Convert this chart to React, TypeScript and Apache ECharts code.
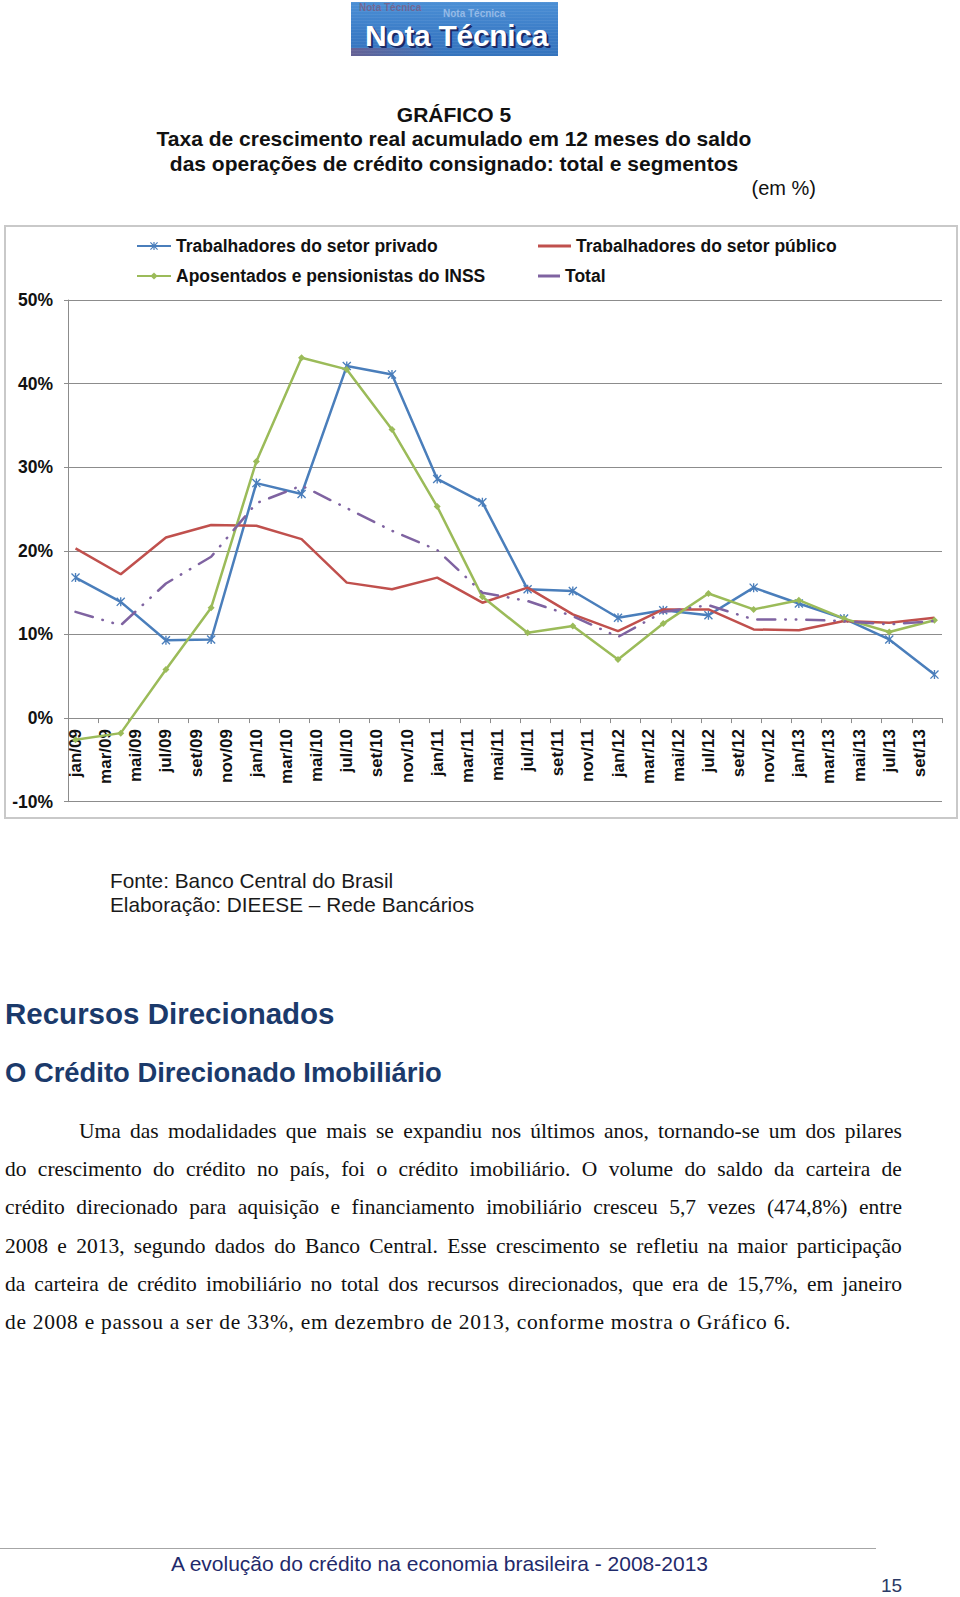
import React, { useEffect, useRef } from "react";
import * as echarts from "echarts";

// ---------- DATA ----------
const monthNames = ["jan", "fev", "mar", "abr", "mai", "jun", "jul", "ago", "set", "out", "nov", "dez"];
const yearSuffixes = ["09", "10", "11", "12", "13"];
const monthCount = 58; // jan/09 .. out/13
const categories: string[] = yearSuffixes
  .flatMap((y) => monthNames.map((m) => `${m}/${y}`))
  .slice(0, monthCount);

const quarters = [
  "jan/09", "abr/09", "jul/09", "out/09",
  "jan/10", "abr/10", "jul/10", "out/10",
  "jan/11", "abr/11", "jul/11", "out/11",
  "jan/12", "abr/12", "jul/12", "out/12",
  "jan/13", "abr/13", "jul/13", "out/13",
];

const privado = [16.8, 13.9, 9.3, 9.4, 28.1, 26.8, 42.1, 41.1, 28.6, 25.8, 15.4, 15.2, 12.0, 12.9, 12.3, 15.6, 13.7, 11.9, 9.4, 5.2];
const publico = [20.3, 17.2, 21.6, 23.1, 23.0, 21.4, 16.2, 15.4, 16.8, 13.8, 15.6, 12.4, 10.4, 13.0, 13.0, 10.6, 10.5, 11.6, 11.4, 12.0];
const inss = [-2.6, -1.8, 5.8, 13.2, 30.7, 43.1, 41.7, 34.5, 25.3, 14.5, 10.2, 11.0, 7.0, 11.3, 14.9, 13.0, 14.1, 11.9, 10.3, 11.7];
const total = [12.7, 11.1, 16.1, 19.3, 25.7, 27.8, 25.1, 22.4, 20.1, 15.0, 14.0, 12.2, 9.7, 12.7, 13.5, 11.8, 11.8, 11.6, 11.2, 11.6];

const seriesNames = [
  "Trabalhadores do setor privado",
  "Trabalhadores do setor público",
  "Aposentados e pensionistas do INSS",
  "Total",
];

const yTicks = { min: -10, max: 50, step: 10 };

const paragraphLines = [
  "Uma das modalidades que mais se expandiu nos últimos anos, tornando-se um dos pilares",
  "do crescimento do crédito no país, foi o crédito imobiliário. O volume do saldo da carteira de",
  "crédito direcionado para aquisição e financiamento imobiliário cresceu 5,7 vezes (474,8%) entre",
  "2008 e 2013, segundo dados do Banco Central. Esse crescimento se refletiu na maior participação",
  "da carteira de crédito imobiliário no total dos recursos direcionados, que era de 15,7%, em janeiro",
  "de 2008 e passou a ser de 33%, em dezembro de 2013, conforme mostra o Gráfico 6.",
];

// ---------- STYLE ----------
const SANS = '"Liberation Sans", Arial, Helvetica, sans-serif';
const SERIF = '"Liberation Serif", "Times New Roman", serif';
const COLORS = { blue: "#4a7ebb", red: "#c0504d", green: "#9bbb59", purple: "#7f63a1" };
const GRID_GRAY = "#8c8c8c";
const ASTERISK =
  "path://M8.5,0L11.5,0L11.5,20L8.5,20Z M0,2.1L2.1,0L20,17.9L17.9,20Z M17.9,0L20,2.1L2.1,20L0,17.9Z";

// plot geometry (px inside the chart div)
const PLOT_TOP = 80;
const PLOT_HEIGHT = 501.7;

function toPairs(vals: number[]) {
  return quarters.map((q, i) => [q, vals[i]]);
}

function Chart() {
  const ref = useRef<HTMLDivElement>(null);
  useEffect(() => {
    if (!ref.current) return;
    const chart = echarts.init(ref.current, undefined, { renderer: "svg" });
    const legendText = { fontSize: 17.5, fontWeight: "bold", color: "#111", fontFamily: SANS, lineHeight: 21 };
    const legendBase = { padding: 0, selectedMode: false, textStyle: legendText, itemGap: 0 };
    // distance from the bottom of the plot (min) up to the zero line
    const zeroOffset = -PLOT_HEIGHT * ((0 - yTicks.min) / (yTicks.max - yTicks.min));
    chart.setOption({
      animation: false,
      textStyle: { fontFamily: SANS },
      grid: {
        left: 68,
        right: 18,
        top: PLOT_TOP,
        height: PLOT_HEIGHT,
        containLabel: false,
        outerBoundsMode: "none",
      },
      legend: [
        {
          ...legendBase,
          left: 136,
          top: 15.5,
          itemWidth: 34,
          itemHeight: 10,
          data: [{ name: seriesNames[0], itemStyle: { borderWidth: 0 } }],
        },
        {
          ...legendBase,
          left: 136,
          top: 45.5,
          itemWidth: 34,
          itemHeight: 9,
          data: [{ name: seriesNames[2], itemStyle: { borderWidth: 0 } }],
        },
        {
          ...legendBase,
          left: 538,
          top: 15.5,
          itemWidth: 33,
          itemHeight: 3,
          data: [{ name: seriesNames[1], icon: "rect" }],
        },
        {
          ...legendBase,
          left: 538,
          top: 45.5,
          itemWidth: 22,
          itemHeight: 3,
          data: [{ name: seriesNames[3], icon: "rect" }],
        },
      ],
      xAxis: {
        type: "category",
        data: categories,
        boundaryGap: true,
        position: "bottom",
        offset: zeroOffset,
        axisLine: { onZero: false, lineStyle: { color: GRID_GRAY, width: 1 } },
        axisTick: { show: true, interval: 1, length: 5, lineStyle: { color: GRID_GRAY } },
        axisLabel: {
          interval: 1,
          rotate: 90,
          margin: 11,
          fontSize: 17,
          fontWeight: "bold",
          color: "#111",
          fontFamily: SANS,
        },
        splitLine: { show: false },
      },
      yAxis: {
        type: "value",
        min: yTicks.min,
        max: yTicks.max,
        interval: yTicks.step,
        axisLine: { show: true, lineStyle: { color: GRID_GRAY, width: 1 } },
        axisTick: { show: true, length: 4, lineStyle: { color: GRID_GRAY } },
        axisLabel: {
          formatter: "{value}%",
          fontSize: 17.5,
          fontWeight: "bold",
          color: "#111",
          margin: 15,
          fontFamily: SANS,
        },
        splitLine: { show: true, lineStyle: { color: GRID_GRAY, width: 1 } },
      },
      graphic: [
        {
          type: "rect",
          silent: true,
          shape: { x: 5, y: 6, width: 952, height: 592 },
          style: { fill: "none", stroke: "#c9c9c9", lineWidth: 2 },
        },
      ],
      series: [
        {
          name: seriesNames[0],
          type: "line",
          data: toPairs(privado),
          symbol: ASTERISK,
          symbolSize: 9,
          lineStyle: { color: COLORS.blue, width: 2.5 },
          itemStyle: { color: COLORS.blue },
          z: 2,
        },
        {
          name: seriesNames[1],
          type: "line",
          data: toPairs(publico),
          symbol: "none",
          lineStyle: { color: COLORS.red, width: 2.5 },
          itemStyle: { color: COLORS.red },
          z: 3,
        },
        {
          name: seriesNames[2],
          type: "line",
          data: toPairs(inss),
          symbol: "diamond",
          symbolSize: 7,
          lineStyle: { color: COLORS.green, width: 2.5 },
          itemStyle: { color: COLORS.green },
          z: 4,
        },
        {
          name: seriesNames[3],
          type: "line",
          data: toPairs(total),
          symbol: "none",
          lineStyle: {
            color: COLORS.purple,
            width: 2.5,
            type: [18, 10, 0.5, 10, 0.5, 10],
            cap: "round",
          },
          itemStyle: { color: COLORS.purple },
          z: 5,
        },
      ],
    });
    return () => chart.dispose();
  }, []);
  return <div ref={ref} style={{ position: "absolute", left: 0, top: 220, width: 960, height: 610 }} />;
}

function Logo() {
  const faint = (text: string, left: number, top: number, color: string, size: number) => (
    <div
      style={{
        position: "absolute",
        left,
        top,
        font: `bold ${size}px ${SANS}`,
        color,
        whiteSpace: "nowrap",
        lineHeight: 1,
      }}
    >
      {text}
    </div>
  );
  return (
    <div
      style={{
        position: "absolute",
        left: 351,
        top: 2,
        width: 207,
        height: 54,
        overflow: "hidden",
        background:
          "repeating-linear-gradient(180deg, rgba(255,255,255,0.06) 0px, rgba(255,255,255,0.06) 1px, rgba(0,0,0,0) 1px, rgba(0,0,0,0) 3px), linear-gradient(90deg, rgba(190,60,70,0.35) 0%, rgba(190,60,70,0) 45%) bottom / 100% 8px no-repeat, linear-gradient(180deg, #4b8fd5 0%, #3a7bc6 60%, #3574bd 100%)",
      }}
    >
      {faint("Nota Técnica", 8, 1, "rgba(150,70,90,0.55)", 10)}
      {faint("Nota Técnica", 92, 7, "rgba(225,235,255,0.5)", 10)}
      <div
        style={{
          position: "absolute",
          left: 14,
          top: 19,
          font: `bold 30px ${SANS}`,
          lineHeight: "30px",
          color: "#ffffff",
          textShadow: "2px 2px 0 #1b2a66, 1px 1px 0 #1b2a66",
          whiteSpace: "nowrap",
          letterSpacing: -0.3,
        }}
      >
        Nota Técnica
      </div>
    </div>
  );
}

export default function App() {
  const abs = (extra: React.CSSProperties): React.CSSProperties => ({ position: "absolute", ...extra });
  return (
    <div style={{ position: "absolute", left: 0, top: 0, width: 960, height: 1597, background: "#fff", overflow: "hidden" }}>
      <Logo />
      <div
        style={abs({
          left: 0,
          top: 102.75,
          width: 908,
          textAlign: "center",
          font: `bold 21px ${SANS}`,
          lineHeight: "24.5px",
          color: "#111",
        })}
      >
        <div>GRÁFICO 5</div>
        <div>Taxa de crescimento real acumulado em 12 meses do saldo</div>
        <div>das operações de crédito consignado: total e segmentos</div>
      </div>
      <div style={abs({ left: 0, top: 176, width: 816, textAlign: "right", font: `20px ${SANS}`, lineHeight: "24.5px", color: "#111" })}>
        (em %)
      </div>

      <Chart />

      <div style={abs({ left: 110, top: 869, font: `20.8px ${SANS}`, lineHeight: "24px", color: "#1a1a1a", whiteSpace: "nowrap" })}>
        <div>Fonte: Banco Central do Brasil</div>
        <div>Elaboração: DIEESE – Rede Bancários</div>
      </div>

      <div style={abs({ left: 5, top: 996, font: `bold 29.5px ${SANS}`, lineHeight: "36px", color: "#1b3a6b", whiteSpace: "nowrap" })}>
        Recursos Direcionados
      </div>
      <div style={abs({ left: 5, top: 1056, font: `bold 27.4px ${SANS}`, lineHeight: "34px", color: "#1b3a6b", whiteSpace: "nowrap" })}>
        O Crédito Direcionado Imobiliário
      </div>

      <div style={abs({ left: 5, top: 1112, width: 897, font: `21.5px ${SERIF}`, lineHeight: "38.2px", color: "#111" })}>
        {paragraphLines.map((line, i) => {
          const last = i === paragraphLines.length - 1;
          if (last) {
            return (
              <div key={i} style={{ whiteSpace: "nowrap", letterSpacing: 0.7 }}>
                {line}
              </div>
            );
          }
          const words = line.split(" ");
          return (
            <div
              key={i}
              style={{
                display: "flex",
                justifyContent: "space-between",
                columnGap: 3,
                paddingLeft: i === 0 ? 74 : 0,
                whiteSpace: "nowrap",
              }}
            >
              {words.map((w, j) => (
                <span key={j}>{w}</span>
              ))}
            </div>
          );
        })}
      </div>

      <div style={abs({ left: 0, top: 1548, width: 876, height: 1, background: "#a6a6a6" })} />
      <div
        style={abs({
          left: 0,
          top: 1551,
          width: 879,
          textAlign: "center",
          font: `21px ${SANS}`,
          lineHeight: "25px",
          color: "#1f2a6b",
          whiteSpace: "nowrap",
        })}
      >
        A evolução do crédito na economia brasileira - 2008-2013
      </div>
      <div style={abs({ left: 881, top: 1574, font: `19px ${SANS}`, lineHeight: "24px", color: "#2b3a66" })}>15</div>
    </div>
  );
}
